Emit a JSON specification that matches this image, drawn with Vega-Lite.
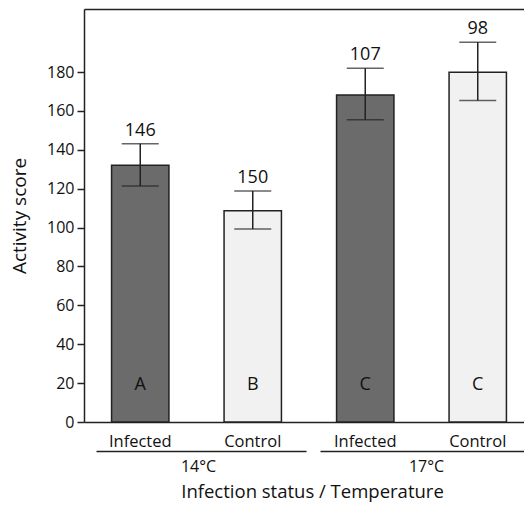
{
  "$schema": "https://vega.github.io/schema/vega-lite/v6.json",
  "autosize": {"type": "none"},
  "padding": {"left": 84, "top": 9, "right": 0, "bottom": 88},
  "width": 440,
  "height": 413,
  "background": "white",
  "config": {
    "font": "Open Sans",
    "view": {"stroke": null},
    "axis": {"grid": false, "labelColor": "#111", "titleColor": "#111", "domainColor": "#222", "tickColor": "#222", "titleFontWeight": "normal"}
  },
  "data": {
    "values": [
      {"group": "14°C Infected", "temp": "14°C", "score": 132, "lo": 121.4, "hi": 143.1, "n": 146, "letter": "A"},
      {"group": "14°C Control", "temp": "14°C", "score": 108.7, "lo": 99.3, "hi": 118.8, "n": 150, "letter": "B"},
      {"group": "17°C Infected", "temp": "17°C", "score": 168.2, "lo": 155.5, "hi": 181.9, "n": 107, "letter": "C"},
      {"group": "17°C Control", "temp": "17°C", "score": 179.9, "lo": 165.3, "hi": 195.3, "n": 98, "letter": "C"}
    ]
  },
  "layer": [
    {
      "encoding": {
        "x": {
          "field": "group",
          "type": "nominal",
          "sort": null,
          "scale": {"range": [0, 450], "paddingInner": 0.49, "paddingOuter": 0.245},
          "axis": {
            "title": null,
            "ticks": false,
            "domain": true,
            "domainWidth": 1.5,
            "labelExpr": "split(datum.label, ' ')[1]",
            "labelAngle": 0,
            "labelFontSize": 16.5,
            "labelPadding": 11
          }
        }
      },
      "layer": [
        {
          "mark": {"type": "bar", "stroke": "#222", "strokeWidth": 1.5},
          "encoding": {
            "y": {
              "field": "score",
              "type": "quantitative",
              "scale": {"domain": [0, 212.4], "nice": false},
              "axis": {
                "title": "Activity score",
                "titleFontSize": 19,
                "titlePadding": 17,
                "values": [0, 10, 20, 30, 40, 50, 60, 70, 80, 90, 100, 110, 120, 130, 140, 150, 160, 170, 180, 190],
                "labelExpr": "datum.value % 20 === 0 ? datum.label : ''",
                "labelFontSize": 16,
                "labelPadding": 3,
                "domainWidth": 1.5,
                "tickWidth": 1.5,
                "tickSize": {"condition": {"test": "datum.value % 20 === 0", "value": 7}, "value": 3}
              }
            },
            "fill": {
              "field": "group",
              "type": "nominal",
              "scale": {"domain": ["14°C Infected", "14°C Control", "17°C Infected", "17°C Control"], "range": ["#6b6b6b", "#f1f1f1", "#6b6b6b", "#f1f1f1"]},
              "legend": null
            }
          }
        },
        {
          "mark": {"type": "rule", "color": "#222", "strokeWidth": 1.5},
          "encoding": {
            "y": {"field": "lo", "type": "quantitative"},
            "y2": {"field": "hi"}
          }
        },
        {
          "mark": {"type": "tick", "color": "#222", "size": 37, "thickness": 1.5},
          "encoding": {"y": {"field": "hi", "type": "quantitative"}}
        },
        {
          "mark": {"type": "tick", "color": "#222", "size": 37, "thickness": 1.5},
          "encoding": {"y": {"field": "lo", "type": "quantitative"}}
        },
        {
          "mark": {"type": "text", "fontSize": 18, "baseline": "alphabetic", "dy": -8, "color": "#111"},
          "encoding": {
            "y": {"field": "hi", "type": "quantitative"},
            "text": {"field": "n", "type": "nominal"}
          }
        },
        {
          "mark": {"type": "text", "fontSize": 18, "baseline": "alphabetic", "dy": -32, "color": "#111"},
          "encoding": {
            "y": {"datum": 0, "type": "quantitative"},
            "text": {"field": "letter", "type": "nominal"}
          }
        }
      ]
    },
    {
      "mark": {"type": "point", "opacity": 0},
      "encoding": {
        "x": {
          "field": "temp",
          "type": "nominal",
          "sort": null,
          "scale": {"range": [0, 456], "paddingInner": 0, "paddingOuter": 0},
          "axis": {
            "orient": "bottom",
            "offset": 29,
            "ticks": false,
            "domainWidth": 1.5,
            "domainDash": [210, 14],
            "domainDashOffset": 212,
            "labelAngle": 0,
            "labelFontSize": 16,
            "labelPadding": 7,
            "title": "Infection status / Temperature",
            "titleFontSize": 18.5,
            "titlePadding": 8
          }
        }
      }
    },
    {
      "mark": {"type": "point", "opacity": 0},
      "encoding": {
        "x": {
          "field": "group",
          "type": "nominal",
          "sort": null,
          "axis": {"orient": "top", "ticks": false, "labels": false, "title": null, "domainWidth": 1.5}
        }
      }
    }
  ],
  "resolve": {"scale": {"x": "independent"}}
}
